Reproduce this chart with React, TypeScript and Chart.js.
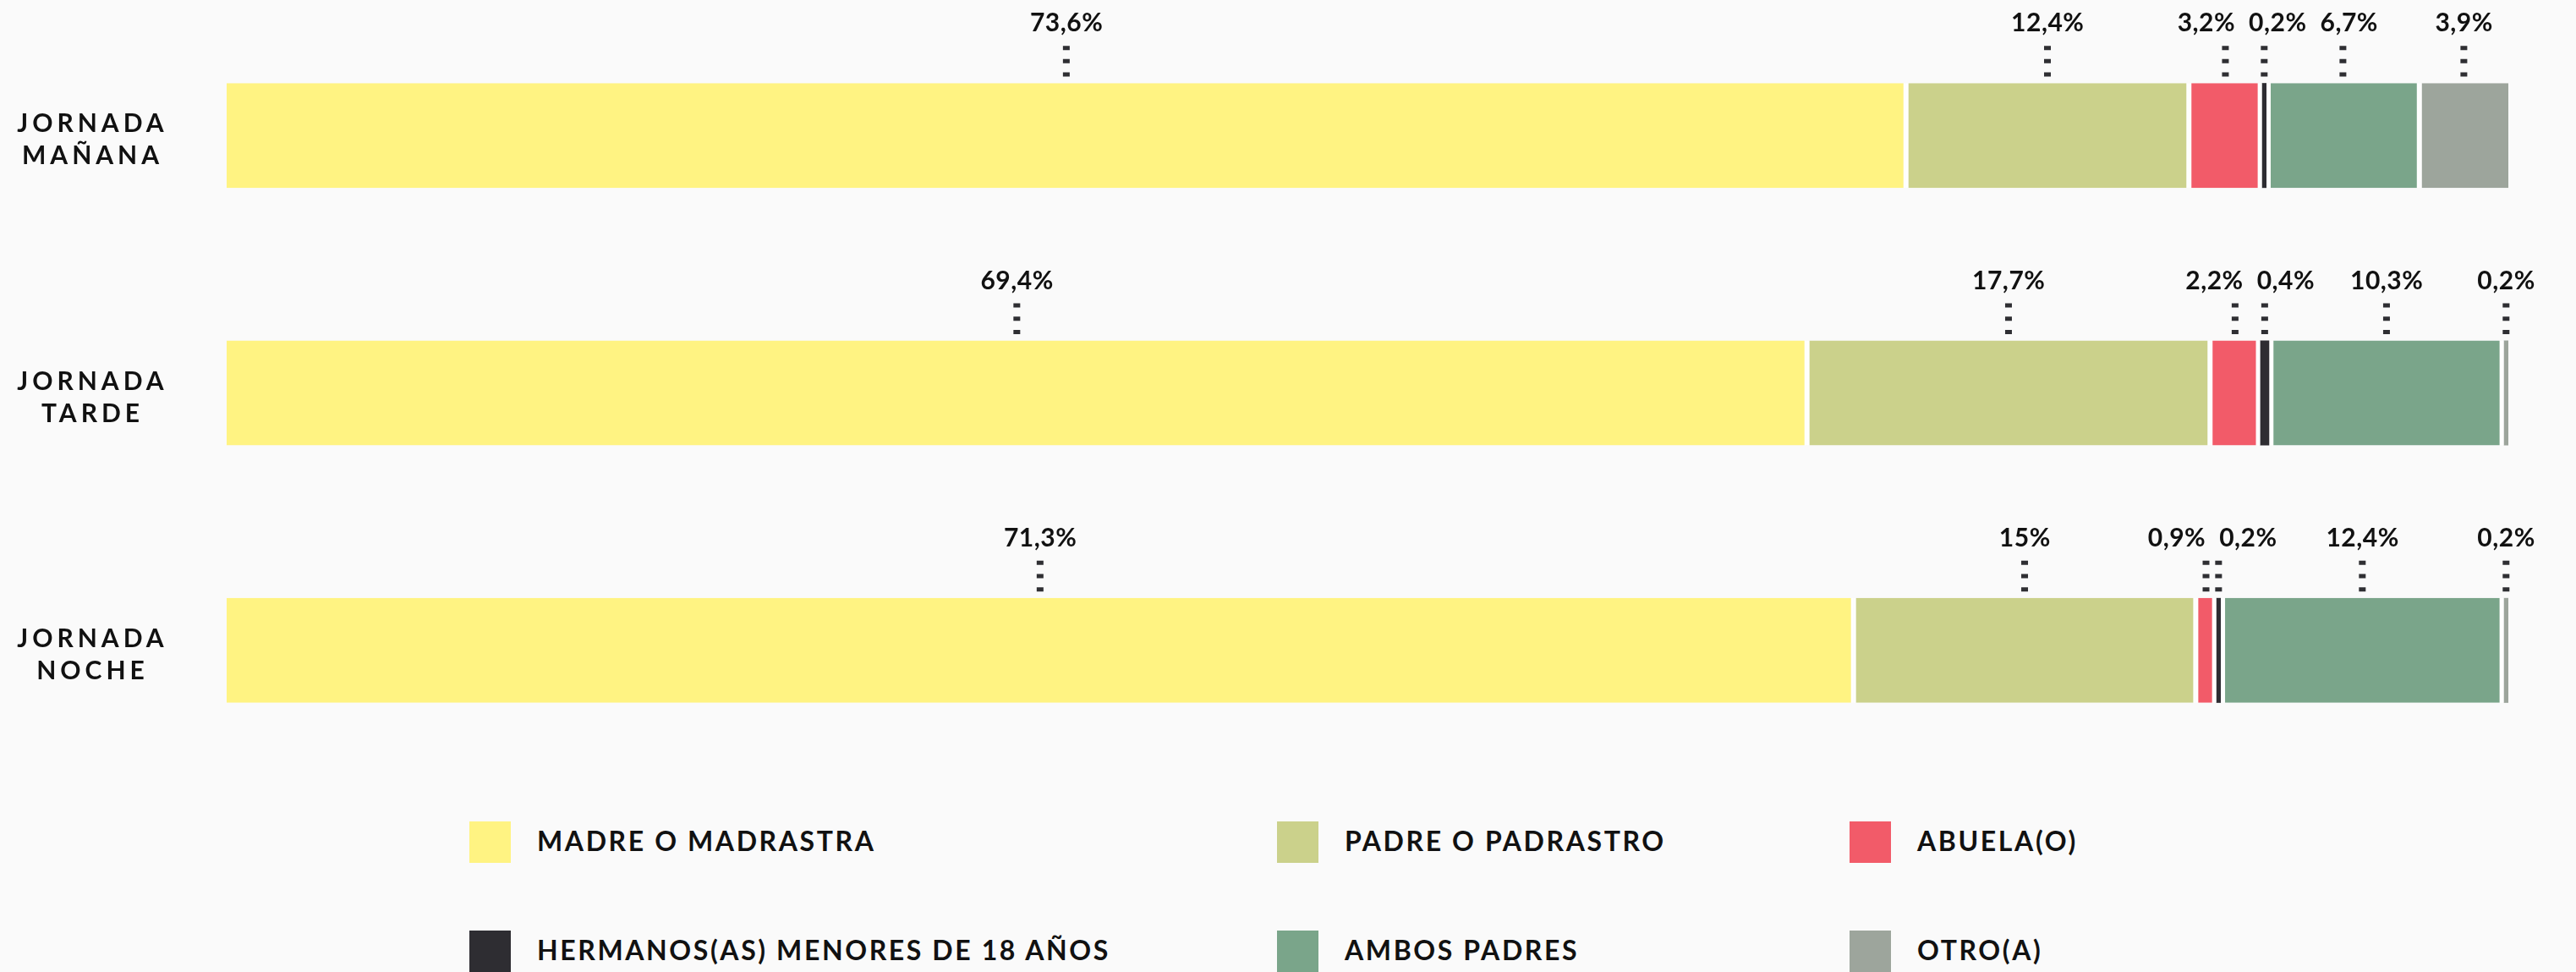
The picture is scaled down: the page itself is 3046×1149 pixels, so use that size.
import React, { useEffect, useRef } from 'react';
import { Chart, registerables } from 'chart.js';

Chart.register(...registerables);

// ---- Data ----
const categories: string[][] = [
  ['JORNADA', 'MAÑANA'],
  ['JORNADA', 'TARDE'],
  ['JORNADA', 'NOCHE'],
];
const seriesNames = [
  'MADRE O MADRASTRA',
  'PADRE O PADRASTRO',
  'ABUELA(O)',
  'HERMANOS(AS) MENORES DE 18 AÑOS',
  'AMBOS PADRES',
  'OTRO(A)',
];
const madre = [73.6, 69.4, 71.3];
const padre = [12.4, 17.7, 15];
const abuela = [3.2, 2.2, 0.9];
const hermanos = [0.2, 0.4, 0.2];
const ambos = [6.7, 10.3, 12.4];
const otro = [3.9, 0.2, 0.2];
const seriesValues = [madre, padre, abuela, hermanos, ambos, otro];
const seriesColors = ['#FFF382', '#CBD18B', '#F25B69', '#2E2D32', '#7AA58A', '#9DA59C'];

// 100% stacking per row
const rowTotals = categories.map((_, i) => seriesValues.reduce((s, arr) => s + arr[i], 0));
const shares = seriesValues.map((arr) => arr.map((v, i) => (v / rowTotals[i]) * 100));

const fmt = (v: number) => String(v).replace('.', ',') + '%';
const isTiny = (v: number) => v < 0.5;

const FONT = 'Lato, "Open Sans", sans-serif';

const labelsPlugin = {
  id: 'customLabels',
  afterDatasetsDraw(chart: any) {
    const ctx: CanvasRenderingContext2D = chart.ctx;
    const yScale = chart.scales.y;

    // Category labels
    ctx.save();
    ctx.font = `700 30px ${FONT}`;
    (ctx as any).letterSpacing = '5px';
    ctx.fillStyle = '#111111';
    ctx.textAlign = 'center';
    ctx.textBaseline = 'alphabetic';
    categories.forEach((lines, i) => {
      const cy = yScale.getPixelForValue(i);
      lines.forEach((ln, k) => {
        ctx.fillText(ln, 107 + 2.5, cy - 4 + k * 38);
      });
    });
    ctx.restore();

    // Value labels with dotted leaders
    ctx.save();
    ctx.font = `700 30px ${FONT}`;
    (ctx as any).letterSpacing = '0.5px';
    ctx.textAlign = 'center';
    ctx.textBaseline = 'alphabetic';
    const gap = 16;
    categories.forEach((_, i) => {
      const items = seriesValues.map((arr, j) => {
        const el: any = chart.getDatasetMeta(j).data[i];
        const cx = (el.x + el.base) / 2;
        const top = el.y - el.height / 2;
        const text = fmt(arr[i]);
        const w = ctx.measureText(text).width;
        return { cx, top, text, w, tx: cx };
      });
      for (let pass = 0; pass < 10; pass++) {
        for (let k = 0; k < items.length - 1; k++) {
          const a = items[k];
          const b = items[k + 1];
          const overlap = a.tx + a.w / 2 + gap - (b.tx - b.w / 2);
          if (overlap > 0) {
            a.tx -= overlap / 2;
            b.tx += overlap / 2;
          }
        }
      }
      items.forEach((it) => {
        ctx.fillStyle = '#111111';
        ctx.fillText(it.text, it.tx + 0.25, it.top - 61);
        ctx.beginPath();
        ctx.strokeStyle = '#2F2F33';
        ctx.lineWidth = 8;
        ctx.setLineDash([5, 10.7]);
        ctx.moveTo(it.cx, it.top - 44);
        ctx.lineTo(it.cx, it.top - 7);
        ctx.stroke();
        ctx.setLineDash([]);
      });
    });
    ctx.restore();
  },
};

const legendCols = [555, 1510, 2187];
const legendRows = [971, 1100];

export default function App() {
  const canvasRef = useRef<HTMLCanvasElement | null>(null);

  useEffect(() => {
    if (!canvasRef.current) return;
    const last = seriesValues.length - 1;
    const chart = new Chart(canvasRef.current, {
      type: 'bar',
      data: {
        labels: categories as any,
        datasets: seriesNames.map((name, j) => ({
          label: name,
          data: shares[j],
          backgroundColor: seriesColors[j],
          borderColor: '#FFFFFF',
          borderSkipped: false,
          inflateAmount: 0,
          barThickness: 124,
          borderWidth: (c: any) => {
            const i = c.dataIndex;
            const v = seriesValues[j][i];
            if (isTiny(v)) return { top: 0, bottom: 0, left: 0, right: 0 };
            const prevTiny = j > 0 && isTiny(seriesValues[j - 1][i]);
            const nextTiny = j < last && isTiny(seriesValues[j + 1][i]);
            return {
              top: 0,
              bottom: 0,
              left: j === 0 ? 0 : prevTiny ? 5 : 3,
              right: j === last ? 0 : nextTiny ? 5 : 3,
            };
          },
        })) as any,
      },
      options: {
        indexAxis: 'y',
        responsive: false,
        maintainAspectRatio: false,
        animation: false,
        layout: { padding: { left: 268, right: 80, top: 8, bottom: 19 } },
        scales: {
          x: { stacked: true, min: 0, max: 100, display: false },
          y: { stacked: true, display: false },
        },
        plugins: {
          legend: { display: false },
          tooltip: { enabled: false },
        },
      } as any,
      plugins: [labelsPlugin],
    });
    return () => chart.destroy();
  }, []);

  return (
    <div
      style={{
        position: 'relative',
        width: 3046,
        height: 1149,
        background: '#FAFAFA',
        overflow: 'hidden',
      }}
    >
      <style>{'body{margin:0;background:#FAFAFA;overflow:hidden}'}</style>
      <canvas
        ref={canvasRef}
        width={3046}
        height={940}
        style={{ position: 'absolute', left: 0, top: 0, display: 'block' }}
      />
      {seriesNames.map((name, j) => {
        const x = legendCols[j % 3];
        const y = legendRows[Math.floor(j / 3)];
        return (
          <React.Fragment key={name}>
            <div
              style={{
                position: 'absolute',
                left: x,
                top: y,
                width: 49,
                height: 49,
                background: seriesColors[j],
              }}
            />
            <div
              style={{
                position: 'absolute',
                left: x + 80,
                top: y + 6.6,
                fontFamily: FONT,
                fontWeight: 700,
                fontSize: 32,
                lineHeight: '32px',
                letterSpacing: '2.6px',
                color: '#111111',
                whiteSpace: 'nowrap',
              }}
            >
              {name}
            </div>
          </React.Fragment>
        );
      })}
    </div>
  );
}
